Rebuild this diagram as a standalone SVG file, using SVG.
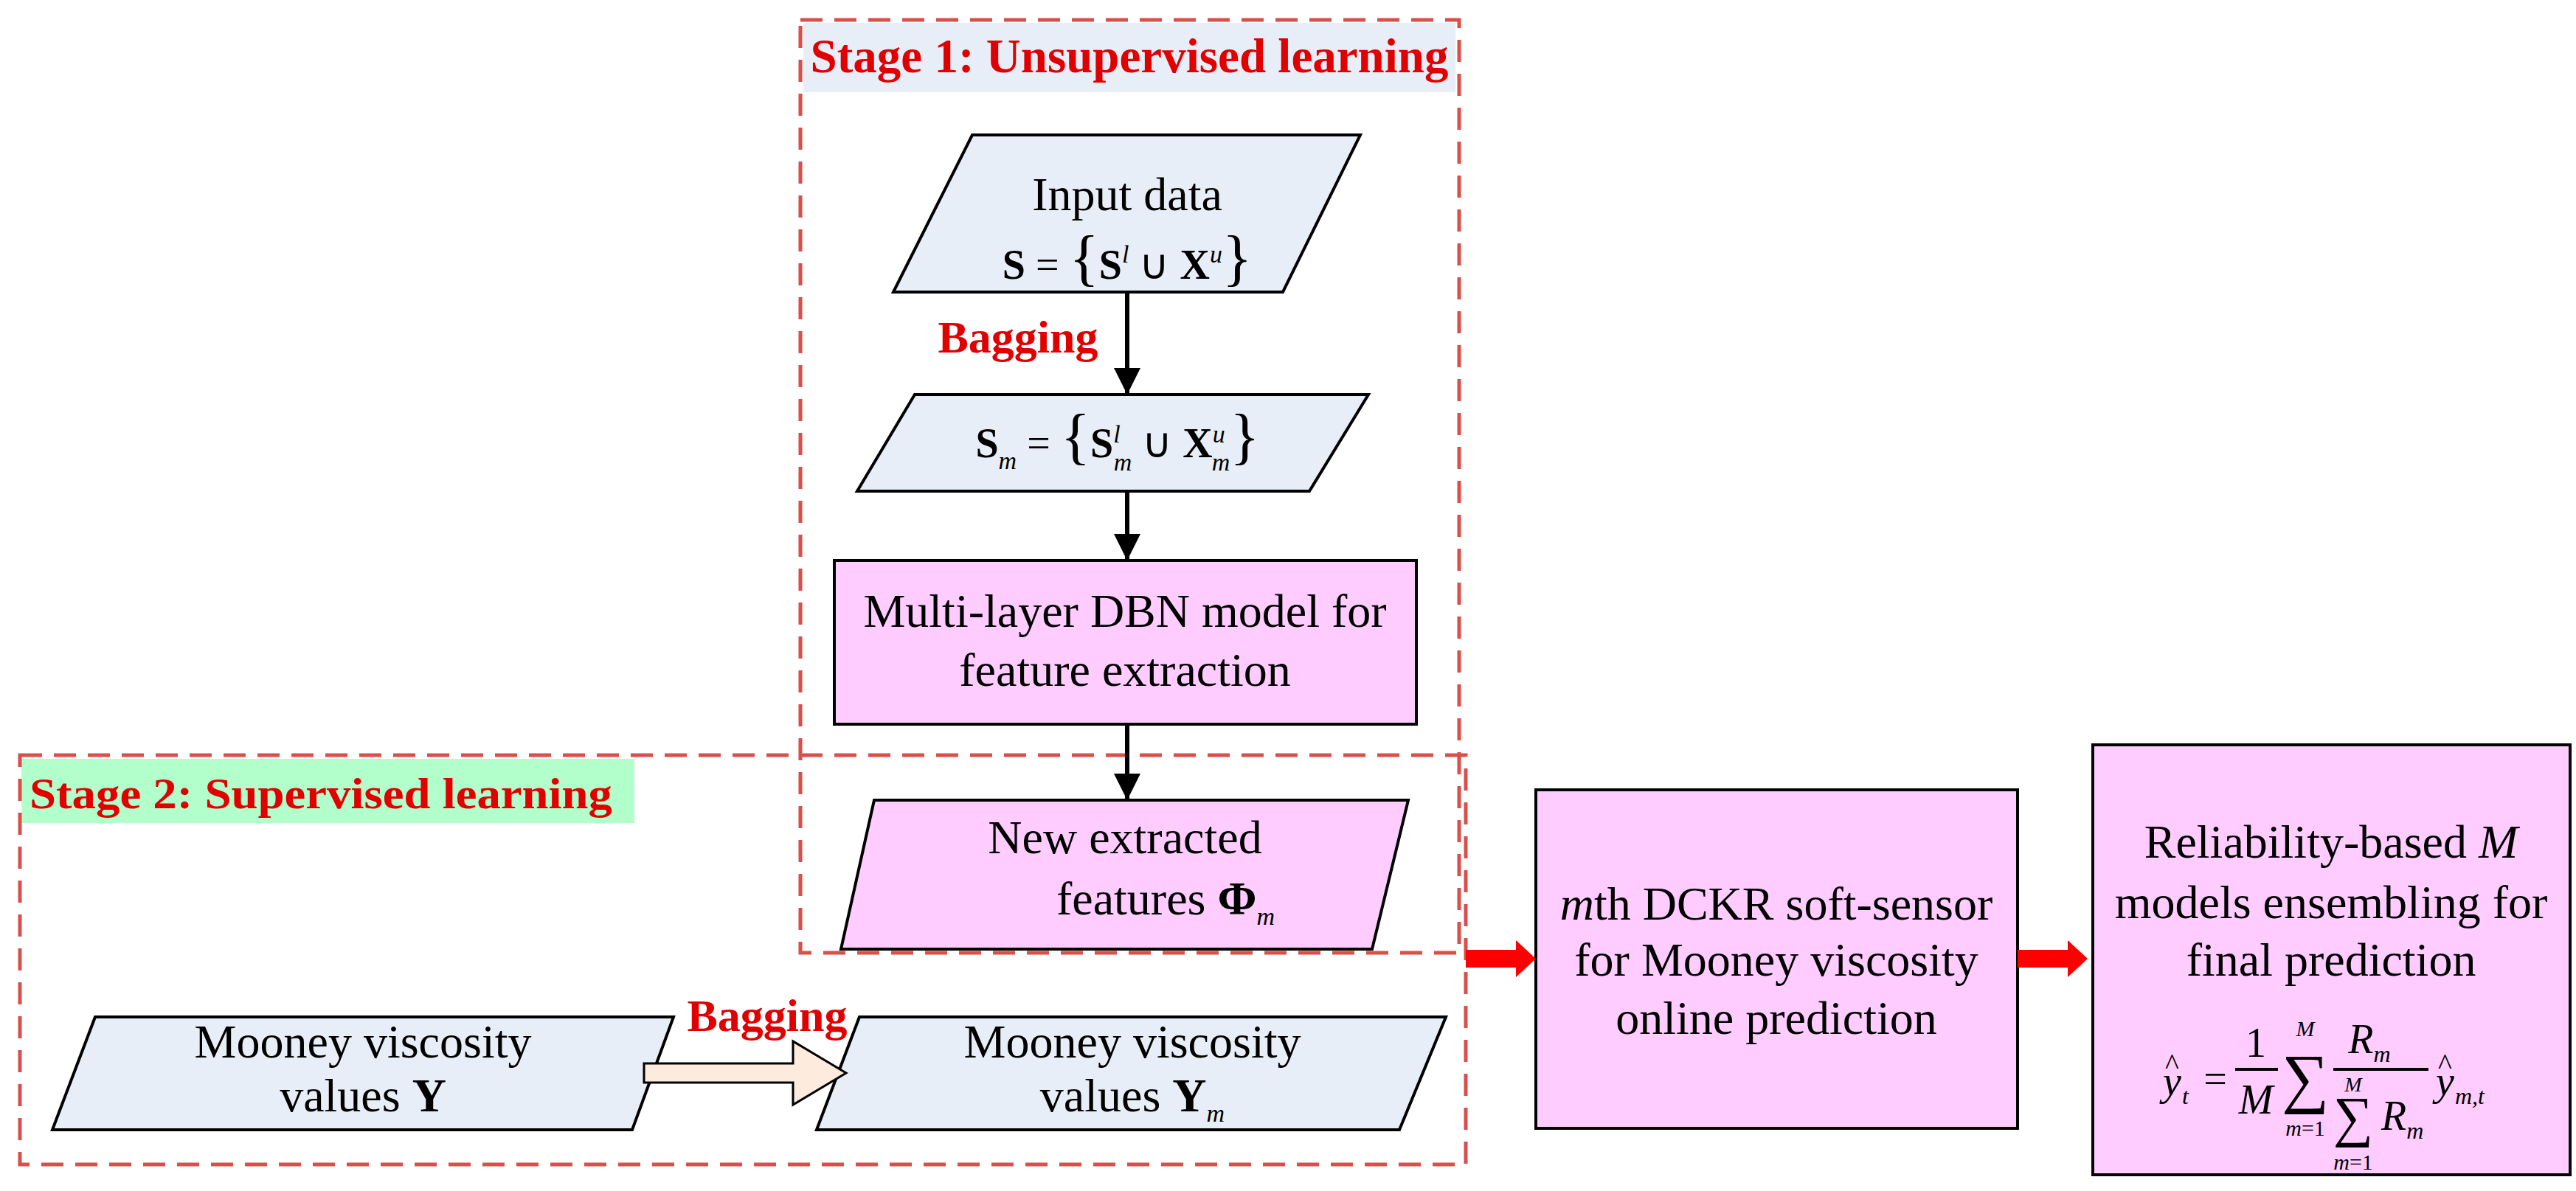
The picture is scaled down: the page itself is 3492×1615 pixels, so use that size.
<svg xmlns="http://www.w3.org/2000/svg" width="3492" height="1615" viewBox="0 0 3492 1615">
<style>
text{font-family:"Liberation Serif","Times New Roman",serif;fill:#000}
.t{font-size:64px;text-anchor:middle}
.red{fill:#E00000;font-weight:bold}
.stage{fill:none;stroke:#DA4F4A;stroke-width:5;stroke-dasharray:30 16}
.blue{fill:#E8EEF7;stroke:#000;stroke-width:4}
.pink{fill:#FFCCFF;stroke:#000;stroke-width:4}
.conn{stroke:#000;stroke-width:6;fill:none}
.f{font-size:56px}
.i{font-style:italic}
.b{font-weight:bold}
.m{text-anchor:middle}
</style>
<defs>
<marker id="ah" viewBox="0 0 10 10" refX="10" refY="5" markerWidth="6" markerHeight="6" orient="auto" markerUnits="strokeWidth"><path d="M0,0 L10,5 L0,10 z" fill="#000"/></marker>
</defs>
<g id="stage1">
<rect x="1089" y="31" width="884" height="94" fill="#E8EEF7"/>
<rect class="stage" x="1085" y="27" width="893" height="1265"/>
<text class="red" x="1531" y="98" font-size="65" text-anchor="middle">Stage 1: Unsupervised learning</text>
</g>
<g id="stage2">
<rect x="29" y="1029" width="831" height="87" fill="#B3FFCC"/>
<rect class="stage" x="27" y="1024" width="1960" height="555"/>
<text class="red" x="40" y="1096" font-size="60" textLength="790" lengthAdjust="spacingAndGlyphs">Stage 2: Supervised learning</text>
</g>
<g id="input">
<polygon class="blue" points="1318,183 1844,183 1739,396 1211,396"/>
<text class="t" x="1528" y="285">Input data</text>
<text class="f" x="1528" y="378" text-anchor="middle"><tspan class="b">S</tspan> = <tspan font-size="84">{</tspan><tspan class="b">S</tspan><tspan class="i" font-size="34" dy="-22">l</tspan><tspan dy="22"> ∪ </tspan><tspan class="b">X</tspan><tspan class="i" font-size="34" dy="-22">u</tspan><tspan dy="22" font-size="84">}</tspan></text>
</g>
<g id="sm">
<polygon class="blue" points="1240,535 1855,535 1775,666 1162,666"/>
<text class="f" x="1515" y="620" text-anchor="middle"><tspan class="b">S</tspan><tspan class="i" font-size="34" dy="16">m</tspan><tspan dy="-16"> = </tspan><tspan font-size="84">{</tspan><tspan class="b">S</tspan><tspan class="i" font-size="34" dy="-20">l</tspan><tspan class="i" font-size="34" dx="-9" dy="38">m</tspan><tspan dy="-18"> ∪ </tspan><tspan class="b">X</tspan><tspan class="i" font-size="34" dy="-20">u</tspan><tspan class="i" font-size="34" dx="-18" dy="38">m</tspan><tspan dy="-18" font-size="84">}</tspan></text>
</g>
<g id="dbn">
<rect class="pink" x="1131" y="760" width="789" height="222"/>
<text class="t" x="1525" y="850">Multi-layer DBN model for</text>
<text class="t" x="1525" y="930">feature extraction</text>
</g>
<g id="features">
<polygon class="pink" points="1185,1085 1909,1085 1860,1287 1140,1287"/>
<text class="t" x="1525" y="1157">New extracted</text>
<text class="t" x="1580" y="1240">features <tspan class="b">Φ</tspan><tspan class="i" font-size="34" dy="14">m</tspan></text>
</g>
<g id="mooneyY">
<polygon class="blue" points="129,1379 913,1379 857,1532 71,1532"/>
<text class="t" x="492" y="1434">Mooney viscosity</text>
<text class="t" x="492" y="1507">values <tspan class="b">Y</tspan></text>
</g>
<g id="mooneyYm">
<polygon class="blue" points="1165,1379 1960,1379 1897,1532 1107,1532"/>
<text class="t" x="1535" y="1434">Mooney viscosity</text>
<text class="t" x="1535" y="1507">values  <tspan class="b">Y</tspan><tspan class="i" font-size="34" dy="14">m</tspan></text>
</g>
<g id="dckr">
<rect class="pink" x="2082" y="1071" width="653" height="459"/>
<text class="t" x="2408" y="1247"><tspan class="i">m</tspan>th DCKR soft-sensor</text>
<text class="t" x="2408" y="1323">for Mooney viscosity</text>
<text class="t" x="2408" y="1402">online prediction</text>
</g>
<g id="ensemble">
<rect class="pink" x="2837" y="1010" width="647" height="583"/>
<text class="t" x="3160" y="1163">Reliability-based <tspan class="i">M</tspan></text>
<text class="t" x="3160" y="1245">models ensembling for</text>
<text class="t" x="3160" y="1323">final prediction</text>
<text x="2932" y="1485" class="i f">y</text><text x="2935" y="1457" font-size="40">^</text><text x="2958" y="1497" class="i" font-size="32">t</text>
<text x="3003" y="1482" class="f m">=</text>
<text x="3058" y="1433" class="f m">1</text>
<line x1="3030" y1="1450" x2="3088" y2="1450" stroke="#000" stroke-width="4"/>
<text x="3058" y="1510" class="i f m">M</text>
<text x="3125" y="1405" class="i m" font-size="30">M</text>
<text x="3125" y="1492" class="m" font-size="90">∑</text>
<text x="3125" y="1540" class="m" font-size="30"><tspan class="i">m</tspan>=1</text>
<text x="3212" y="1428" class="i f m">R<tspan font-size="32" dy="12">m</tspan></text>
<line x1="3163" y1="1450" x2="3292" y2="1450" stroke="#000" stroke-width="4"/>
<text x="3190" y="1480" class="i m" font-size="28">M</text>
<text x="3190" y="1540" class="m" font-size="76">∑</text>
<text x="3190" y="1586" class="m" font-size="30"><tspan class="i">m</tspan>=1</text>
<text x="3228" y="1532" class="i f">R<tspan font-size="32" dy="12">m</tspan></text>
<text x="3302" y="1485" class="i f">y</text><text x="3305" y="1457" font-size="40">^</text><text x="3328" y="1497" class="i" font-size="32">m,t</text>
</g>
<g id="connectors">
<line class="conn" x1="1528" y1="396" x2="1528" y2="535" marker-end="url(#ah)"/>
<line class="conn" x1="1528" y1="666" x2="1528" y2="760" marker-end="url(#ah)"/>
<line class="conn" x1="1528" y1="982" x2="1528" y2="1085" marker-end="url(#ah)"/>
<text class="red" x="1380" y="478" font-size="62" text-anchor="middle">Bagging</text>
<polygon points="873,1442 1075,1442 1075,1412 1147,1455 1075,1498 1075,1468 873,1468" fill="#FDEBDD" stroke="#000" stroke-width="3"/>
<text class="red" x="1040" y="1398" font-size="62" text-anchor="middle">Bagging</text>
<polygon points="1987,1288 2055,1288 2055,1275 2082,1300 2055,1325 2055,1312 1987,1312" fill="#FF0000"/>
<polygon points="2735,1288 2803,1288 2803,1275 2830,1300 2803,1325 2803,1312 2735,1312" fill="#FF0000"/>
</g>
</svg>
